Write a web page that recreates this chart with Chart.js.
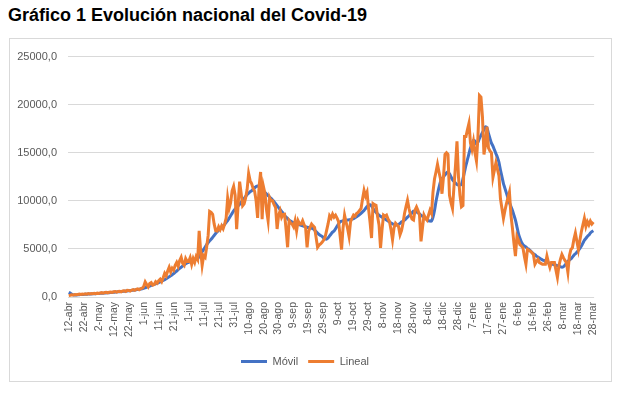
<!DOCTYPE html>
<html>
<head>
<meta charset="utf-8">
<script src="https://cdn.jsdelivr.net/npm/chart.js@4.4.1/dist/chart.umd.min.js"></script>
<style>
  html, body { margin: 0; padding: 0; background: #fff; }
  #title { position: absolute; left: 8px; top: 5px; font: bold 18px 'Liberation Sans', Arial, sans-serif; color: #000; white-space: nowrap; }
  #box { position: absolute; left: 9px; top: 38px; width: 601px; height: 342px; border: 1px solid #d9d9d9; }
  canvas { display: block; }
</style>
</head>
<body>
<div id="title">Gráfico 1 Evolución nacional del Covid-19</div>
<div id="box"><canvas id="c" width="601" height="342"></canvas></div>
<script>
// Tick labels shown on the x axis (every 10th day)
const tickLabels = ["12-abr","22-abr","2-may","12-may","22-may","1-jun","11-jun","21-jun","1-jul","11-jul","21-jul","31-jul","10-ago","20-ago","30-ago","9-sep","19-sep","29-sep","9-oct","19-oct","29-oct","8-nov","18-nov","28-nov","8-dic","18-dic","28-dic","7-ene","17-ene","27-ene","6-feb","16-feb","26-feb","8-mar","18-mar","28-mar"];

// Daily categories: 12-abr-2020 .. 28-mar-2021
const monthNames = ["ene","feb","mar","abr","may","jun","jul","ago","sep","oct","nov","dic"];
const categories = [];
for (let d = new Date(2020, 3, 12); d <= new Date(2021, 2, 28); d.setDate(d.getDate() + 1)) {
  categories.push(d.getDate() + "-" + monthNames[d.getMonth()]);
}

// Series "Lineal" (daily values)
const lineal = [
  150,180,220,200,250,230,270,300,260,310,280,330,300,350,320,360,340,380,350,
  400,370,420,450,390,460,480,430,500,520,470,540,560,500,580,600,540,620,650,580,700,680,620,720,760,690,800,850,760,880,920,
  1100,1570,1300,1050,1400,1500,1230,1300,1600,1450,1700,1850,1600,2000,2460,2200,2700,3100,2600,3000,2800,3300,3600,3200,3800,4130,3500,3300,4000,3700,
  3700,4100,3400,4000,3600,4200,3900,6870,4800,3300,4300,4130,5200,6400,8900,8800,8600,7600,6900,6870,7300,7000,7400,7100,7580,8200,10280,9200,9800,11030,11500,
  10600,7050,9600,12000,10800,9500,9700,10300,11200,12850,12100,11800,11300,11000,10000,8230,11500,13000,8100,11400,10700,9000,7930,10340,10000,10000,9600,9310,7070,8500,8960,
  8280,8600,8620,7000,5170,7930,7700,7590,7300,7930,6900,7930,7600,7590,7930,7500,7240,5170,6800,7240,7590,7400,7240,6200,5170,5400,5520,5690,5900,6210,
  6900,7600,8450,8200,8620,8300,8500,8200,7840,6400,4940,7200,8520,7800,7150,6300,7840,8200,8520,8400,8690,8800,9000,9200,10200,11080,10500,10900,9200,7800,6130,
  9710,9600,9540,8400,7500,5110,7000,8520,8400,8520,8100,7840,7000,5960,7200,7670,7500,7330,6475,6900,7670,8690,9400,10050,9200,8520,8100,8000,9030,9370,
  9000,8520,5790,7200,8520,8200,8000,8500,9030,8690,10900,12270,13000,13800,13000,12270,10740,12500,14825,15000,14825,10570,9800,9200,11500,13630,16190,12500,10570,9370,9500,
  16700,16700,17400,18060,16000,15340,16190,15000,14140,16700,20960,20790,18740,14825,15800,17720,15500,15200,15000,12440,13200,13970,13300,12610,10220,9200,8180,9000,9710,10300,10900,
  8520,7150,5600,4260,6300,5900,5450,5300,5110,4200,3410,4940,4850,4770,4600,4430,3410,3700,3920,3580,3500,3410,3410,3410,4260,3600,3070,3580,
  3580,3580,2800,2040,3240,3900,4430,4090,3800,3580,2560,4300,4940,5110,6000,6650,5790,4940,5900,6820,7500,8180,7330,7840,7500,7900,7600,7800
];

// Series "Móvil" (moving average)
const movil = [
  480,400,300,220,200,210,225,240,250,260,270,280,290,300,310,320,330,340,345,
  360,370,380,390,400,410,425,440,450,465,480,495,510,525,540,555,570,585,600,615,630,650,670,690,710,730,750,775,800,825,850,
  900,960,1020,1080,1140,1200,1260,1320,1380,1440,1500,1570,1640,1720,1800,1900,2000,2100,2200,2320,2440,2560,2700,2840,2980,3100,3220,3340,3450,3550,
  3600,3680,3760,3840,3900,3950,4000,4200,4450,4700,4950,5200,5450,5650,5850,6000,6200,6400,6600,6780,6950,7100,7250,7400,7550,7750,7950,8200,8450,8700,8950,
  9150,9300,9480,9650,9850,10050,10250,10450,10650,10800,10950,11050,11200,11350,11500,11550,11450,11300,11150,11000,10850,10700,10550,10400,10250,10100,9900,9700,9500,9300,9100,
  8900,8700,8450,8300,8150,8000,7900,7800,7700,7650,7600,7550,7500,7450,7400,7350,7300,7250,7220,7200,7150,7100,6950,6800,6650,6500,6400,6300,6150,6050,
  6020,6150,6350,6550,6750,6870,7100,7350,7600,7800,7890,7920,7950,7980,8000,8030,8060,8100,8150,8250,8350,8450,8570,8700,8850,9000,9200,9400,9550,9590,9450,
  9200,8950,8800,8650,8500,8400,8300,8230,8100,8000,7900,7800,7700,7600,7550,7520,7500,7550,7650,7800,7890,8000,8150,8300,8450,8600,8750,8920,8900,8850,
  8750,8650,8500,8400,8300,8200,8060,7950,7900,7900,8300,9000,9940,10700,11400,11990,12300,12500,12700,12900,13000,12800,12500,12200,12000,11850,11700,11650,11650,11700,12300,
  13000,13700,14300,14900,15500,15900,16300,16200,15900,16100,16500,16800,17100,17400,17700,17600,17000,16500,16000,15700,15300,14900,14500,14000,13200,12500,11800,11300,10800,10300,9800,
  9400,9000,8500,8000,7300,6600,6100,5700,5450,5300,5200,5050,4950,4800,4650,4500,4400,4250,4150,4050,3950,3850,3800,3700,3600,3550,3500,3450,
  3400,3350,3300,3250,3200,3150,3100,3150,3300,3500,3700,3850,3960,4150,4350,4500,4650,4850,5050,5300,5600,5900,6100,6300,6450,6650,6800,6900
];

const seriesNames = ["Móvil", "Lineal"];

Chart.defaults.font.family = "'Liberation Sans', Arial, sans-serif";
Chart.defaults.color = "#595959";

new Chart(document.getElementById("c"), {
  type: "line",
  data: {
    labels: categories,
    datasets: [
      { label: seriesNames[0], data: movil, borderColor: "#4472C4", backgroundColor: "#4472C4", borderWidth: 3, pointRadius: 0, tension: 0.3, order: 1 },
      { label: seriesNames[1], data: lineal, borderColor: "#ED7D31", backgroundColor: "#ED7D31", borderWidth: 3, pointRadius: 0, tension: 0, order: 0 }
    ]
  },
  options: {
    responsive: false,
    animation: false,
    devicePixelRatio: 1,
    layout: { padding: { left: 0, right: 11, top: 14, bottom: 4 } },
    plugins: {
      tooltip: { enabled: false },
      legend: {
        position: "bottom",
        labels: {
          usePointStyle: true,
          pointStyle: "line",
          pointStyleWidth: 26,
          boxWidth: 26,
          boxHeight: 3,
          padding: 10,
          font: { size: 11 },
          color: "#595959",
          sort: (a, b) => a.datasetIndex - b.datasetIndex
        }
      }
    },
    scales: {
      x: {
        offset: true,
        grid: { display: false, drawTicks: false },
        border: { display: false },
        afterFit: (s) => { s.height = 49; },
        ticks: {
          autoSkip: false,
          minRotation: 90,
          maxRotation: 90,
          padding: 5,
          font: { size: 10.5 },
          color: "#595959",
          callback: (v, i) => (i % 10 === 0 ? tickLabels[i / 10] : null)
        }
      },
      y: {
        min: 0,
        max: 25000,
        grid: { color: "#d9d9d9", lineWidth: 1, drawTicks: false },
        border: { display: false },
        afterFit: (s) => { s.width = 58; },
        ticks: {
          stepSize: 5000,
          padding: 11,
          font: { size: 11 },
          color: "#595959",
          callback: (v) => v.toFixed(1).replace(".", ",")
        }
      }
    }
  }
});
</script>
</body>
</html>
